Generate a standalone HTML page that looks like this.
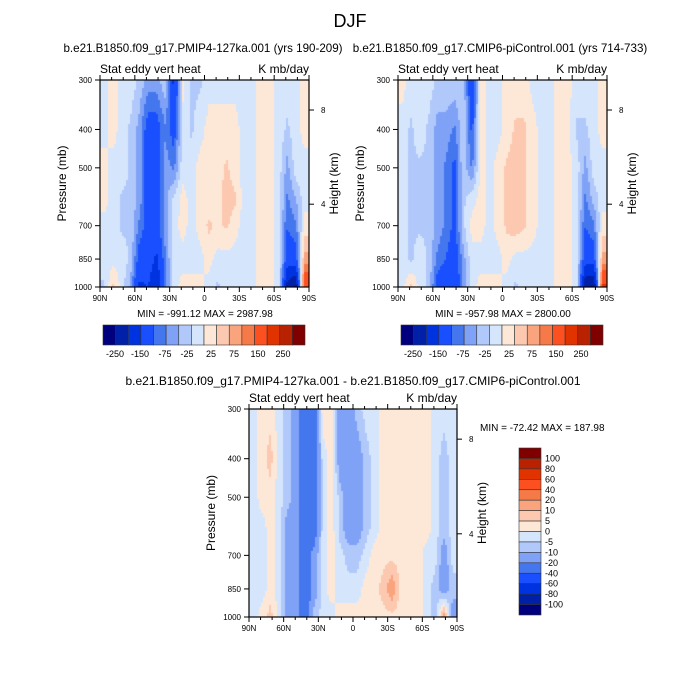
<!DOCTYPE html>
<html><head><meta charset="utf-8">
<style>
body{margin:0;background:#fff;width:700px;height:700px;overflow:hidden;font-family:"Liberation Sans",sans-serif;}
#root{position:relative;width:700px;height:700px;}
canvas{position:absolute;}
svg{position:absolute;left:0;top:0;}
</style></head>
<body><div id="root">
<canvas id="c1" width="209" height="207" style="left:100px;top:80px"></canvas>
<canvas id="c2" width="209" height="207" style="left:398px;top:80px"></canvas>
<canvas id="c3" width="208" height="208" style="left:249px;top:409px"></canvas>
<svg id="s" width="700" height="700"></svg>
</div>
<script>
// ---- data ----
const pressures=[300,400,500,600,700,850,1000];
const lats=[86.25,78.75,71.25,63.75,56.25,48.75,41.25,33.75,26.25,18.75,11.25,3.75,-3.75,-11.25,-18.75,-26.25,-33.75,-41.25,-48.75,-56.25,-63.75,-71.25,-78.75,-86.25];
const fieldA=[
[-10,-10,10,10,-10,-10,-30],[10,10,-10,-10,-10,-10,30],[-10,-10,-10,-30,-30,-10,-10],[-10,-30,-30,-30,-30,-30,-60],
[-30,-60,-60,-60,-80,-120,-160],[-60,-120,-120,-120,-120,-120,-150],[-60,-120,-120,-120,-120,-160,-200],[-30,-80,-60,-60,-60,-80,-80],
[-170,-120,-80,-20,-10,-10,-10],[10,-10,-10,10,10,-10,10],[-30,-30,-10,-10,-10,-10,10],[-30,-10,10,10,10,-10,10],
[-10,10,10,10,30,10,-10],[-10,10,10,10,20,-10,-30],[-10,10,30,40,30,-10,-10],[-10,10,10,30,10,-10,-10],
[-10,-10,-10,-10,-10,-10,-10],[-10,-10,-10,-10,-10,-10,-10],[10,10,10,10,10,10,10],[10,10,10,10,10,10,10],
[-10,-10,-10,-10,-10,-10,-10],[-10,-30,-60,-80,-100,-120,-220],[-10,-10,-10,-50,-80,-120,-260],[10,10,-10,-10,10,60,150]];
const fieldB=[
[10,-10,-10,-10,-10,-10,-10],[-10,-30,-30,-30,-30,-30,30],[-10,-10,-30,-30,-30,-10,-10],[-10,-30,-30,-30,-30,-30,-30],
[-30,-60,-60,-60,-60,-80,-120],[-30,-60,-80,-80,-80,-100,-150],[-30,-80,-110,-110,-110,-130,-150],[-30,-30,-30,-30,-30,-60,-60],
[-150,-110,-80,-10,10,-10,-10],[10,10,10,10,10,-10,10],[-10,-10,-10,-10,-10,-10,10],[-10,-10,10,10,10,-10,10],
[10,10,30,30,30,10,-10],[10,30,40,40,40,-10,-30],[10,30,30,30,30,-10,-10],[-10,10,10,10,10,-10,-10],
[-10,-10,-10,-10,-10,-10,-10],[-10,-10,-10,-10,-10,-10,-10],[10,10,10,10,10,10,10],[10,10,10,10,10,10,10],
[-10,-30,-10,-10,-10,-10,-10],[-10,-30,-60,-80,-100,-130,-240],[-10,-10,-10,-40,-80,-120,-260],[10,10,-10,-10,10,60,160]];
const fieldD=[
[-3,-3,-3,-3,-3,-3,-3],[3,3,3,-3,-3,-3,3],[3,7,3,3,3,3,7],[-3,-3,-3,-3,-3,-3,-3],
[-7,-7,-7,-15,-15,-15,-15],[-15,-15,-15,-15,-15,-15,-15],[-30,-30,-30,-30,-30,-30,-30],[-30,-30,-30,-30,-15,-15,-7],
[3,-3,-3,-3,-3,-3,-3],[3,3,3,3,3,3,-3],[-15,-15,-7,-7,-3,-3,3],[-15,-15,-15,-15,-7,-3,3],
[-7,-15,-15,-15,-7,-3,3],[-3,-7,-7,-7,-3,3,3],[-3,-3,-3,-3,3,3,3],[3,3,3,3,3,7,3],
[3,3,3,3,3,15,3],[3,3,3,3,3,3,3],[3,3,3,3,3,3,3],[3,3,3,3,3,3,3],
[3,3,3,3,-3,-3,-3],[-3,-3,-3,-3,-3,-7,-7],[-3,-7,-7,-7,-15,-15,15],[-3,-3,-3,-3,-3,-7,-15]];
const levelsTop=[-250,-200,-150,-100,-75,-50,-25,0,25,50,75,100,150,200,250];
const levelsDiff=[-100,-80,-60,-40,-20,-10,-5,0,5,10,20,40,60,80,100];
const topLabels=["-250","-150","-75","-25","25","75","150","250"];
const diffLabels=["100","80","60","40","20","10","5","0","-5","-10","-20","-40","-60","-80","-100"];
const colors=["#00007f","#0020a8","#0033e0","#1a4fff","#4477ee","#80a2f6","#b1c8fa","#d5e6fc","#fde8d8","#fcc8b0","#f9a47c","#f67a48","#fd5020","#e03300","#b82200","#800000"];
const pTicks=[300,400,500,700,850,1000];
const latTicks=[90,60,30,0,-30,-60,-90];
const latLabels=["90N","60N","30N","0","30S","60S","90S"];

// ---- helpers ----
const yOfP=(p,top,h)=>top+Math.log(p/300)/Math.log(1000/300)*h;
const xOfLat=(lat,left,w)=>left+(90-lat)/180*w;
function colorFor(v,lev){let i=0;while(i<lev.length&&v>=lev[i])i++;return colors[i];}
function interp(field,lat,p){
  let fi=(86.25-lat)/7.5; fi=Math.max(0,Math.min(lats.length-1.001,fi));
  const i0=Math.floor(fi),tf=fi-i0;
  let lp=Math.log(p),j=0;
  while(j<pressures.length-2&&lp>Math.log(pressures[j+1]))j++;
  let tp=(lp-Math.log(pressures[j]))/(Math.log(pressures[j+1])-Math.log(pressures[j]));
  tp=Math.max(0,Math.min(1,tp));
  const a=field[i0][j]*(1-tp)+field[i0][j+1]*tp;
  const b=field[i0+1][j]*(1-tp)+field[i0+1][j+1]*tp;
  return a*(1-tf)+b*tf;
}
function drawField(id,field,lev){
  const c=document.getElementById(id),ctx=c.getContext('2d'),W=c.width,H=c.height;
  for(let x=0;x<W;x+=2)for(let y=0;y<H;y+=2){
    const lat=90-(x+1)/W*180;
    const p=300*Math.pow(1000/300,(y+1)/H);
    ctx.fillStyle=colorFor(interp(field,lat,p),lev);
    ctx.fillRect(x,y,2,2);
  }
}
drawField('c1',fieldA,levelsTop);
drawField('c2',fieldB,levelsTop);
drawField('c3',fieldD,levelsDiff);

const S=document.getElementById('s');const NS='http://www.w3.org/2000/svg';
function el(tag,at,txt){const e=document.createElementNS(NS,tag);for(const k in at)e.setAttribute(k,at[k]);if(txt!==undefined)e.textContent=txt;S.appendChild(e);return e;}
function line(x1,y1,x2,y2){return el('line',{x1,y1,x2,y2,stroke:'#000','stroke-width':1});}

function axes(left,top,w,h,tag){
  const r=el('rect',{x:left,y:top,width:w,height:h,fill:'none',stroke:'#000','stroke-width':1.2});
  
  
  for(let lat=90;lat>=-90;lat-=10){
    const x=xOfLat(lat,left,w);const L=(lat%30===0)?5:3;
    line(x,top+h,x,top+h+L);line(x,top,x,top-L);
  }
  latTicks.forEach((lat,i)=>{
    const t=el('text',{x:xOfLat(lat,left,w),y:top+h+14,'font-size':8,'text-anchor':'middle'},latLabels[i]);
    
    
  });
  pTicks.forEach(p=>{
    const y=yOfP(p,top,h);line(left-5,y,left,y);
    const t=el('text',{x:left-8,y:y+3,'font-size':8,'text-anchor':'end'},String(p));
    
    
  });
  [[8,0.145],[4,0.6]].forEach(([km,f])=>{
    const y=top+f*h;line(left+w,y,left+w+5,y);
    const t=el('text',{x:left+w+12,y:y+3,'font-size':8},String(km));
    
    
  });
  const yl=el('text',{x:0,y:0,'font-size':12,'text-anchor':'middle',transform:`translate(${left-34},${top+h/2}) rotate(-90)`},'Pressure (mb)');
  
  
  const hl=el('text',{x:0,y:0,'font-size':12,'text-anchor':'middle',transform:`translate(${left+w+29},${top+h/2}) rotate(-90)`},'Height (km)');
  
  
  const a=el('text',{x:left,y:top-7,'font-size':12},'Stat eddy vert heat');
  
  
  const b=el('text',{x:left+w,y:top-7,'font-size':12,'text-anchor':'end'},'K mb/day');
  
  
}
axes(100,80,209,207,'panel1');
axes(398,80,209,207,'panel2');
axes(249,409,208,208,'panel3');

function txt(x,y,s,size,anchor,name){const t=el('text',{x,y,'font-size':size,'text-anchor':anchor},s);return t;}
txt(350,27,'DJF',18,'middle','main-title');
txt(203,52,'b.e21.B1850.f09_g17.PMIP4-127ka.001 (yrs 190-209)',11.6,'middle','panel1-title');
txt(500,52,'b.e21.B1850.f09_g17.CMIP6-piControl.001 (yrs 714-733)',11.6,'middle','panel2-title');
txt(353,385,'b.e21.B1850.f09_g17.PMIP4-127ka.001 - b.e21.B1850.f09_g17.CMIP6-piControl.001',12,'middle','panel3-title');
txt(205,317,'MIN = -991.12  MAX = 2987.98',10,'middle','panel1-minmax');
txt(503,317,'MIN = -957.98  MAX = 2800.00',10,'middle','panel2-minmax');
txt(480,431,'MIN = -72.42  MAX = 187.98',10,'start','panel3-minmax');

const labelOffsets=[12,37,62,84,108,131,155,180];
function hbar(left,tag){
  const w=202/16;
  colors.forEach((c,i)=>{
    const r=el('rect',{x:left+i*w,y:325,width:w,height:20,fill:c,stroke:'#333','stroke-width':0.6});
    
    
  });
  topLabels.forEach((s,i)=>{
    const t=el('text',{x:left+labelOffsets[i],y:357,'font-size':9,'text-anchor':'middle'},s);
    
    
  });
}
hbar(103,'panel1');hbar(401,'panel2');

const bh=(615-448)/16;
colors.slice().reverse().forEach((c,i)=>{
  const r=el('rect',{x:519,y:448+i*bh,width:22,height:bh,fill:c,stroke:'#333','stroke-width':0.6});
  
  
});
diffLabels.forEach((s,i)=>{
  const t=el('text',{x:545,y:448+(i+1)*bh+3,'font-size':9},s);
  
  
});
</script>
</body></html>
